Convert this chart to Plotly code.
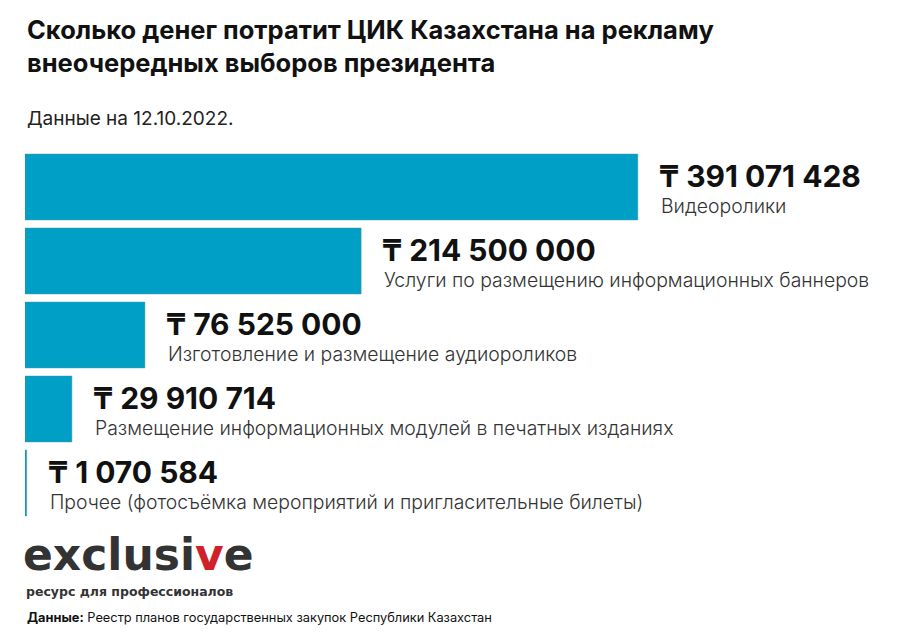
import plotly.graph_objects as go

categories = ["Видеоролики", "Услуги по размещению информационных баннеров",
              "Изготовление и размещение аудиороликов",
              "Размещение информационных модулей в печатных изданиях",
              "Прочее (фотосъёмка мероприятий и пригласительные билеты)"]
values = [391071428, 214500000, 76525000, 29910714, 1070584]
value_labels = ["₸ 391 071 428", "₸ 214 500 000", "₸ 76 525 000", "₸ 29 910 714", "₸ 1 070 584"]

W, H = 904, 643
L, R, T, B = 17, 33, 142, 131
FONT = "Inter, Roboto, sans-serif"

fig = go.Figure(go.Bar(
    x=values, y=categories, orientation="h",
    marker=dict(color="#00a0c6", line=dict(color="#4a8ea0", width=0.5)),
    hoverinfo="skip"))

ann = []
for c, v, lab in zip(categories, values, value_labels):
    ann.append(dict(x=v, y=c, xref="x", yref="y", text=f"<b>{lab}</b>", showarrow=False,
                    xanchor="left", yanchor="middle", xshift=19, yshift=11,
                    font=dict(size=30, color="#111", family=FONT)))
    ann.append(dict(x=v, y=c, xref="x", yref="y", text=c, showarrow=False,
                    xanchor="left", yanchor="middle", xshift=21, yshift=-19,
                    font=dict(size=19.4, color="#333", family=FONT, weight=300)))

def px(x): return (x - L) / (W - L - R)
def py(y): return (H - B - y) / (H - T - B)

ann += [
    dict(x=px(17), y=py(38), xref="paper", yref="paper", xanchor="left", yanchor="middle",
         showarrow=False, align="left",
         text="<b>Сколько денег потратит ЦИК Казахстана на рекламу<br>внеочередных выборов президента</b>",
         font=dict(size=25.5, color="#111", family=FONT)),
    dict(x=px(17), y=py(110), xref="paper", yref="paper", xanchor="left", yanchor="middle",
         showarrow=False, text="Данные на 12.10.2022.", font=dict(size=19, color="#222", family=FONT)),
    dict(x=px(13), y=py(546), xref="paper", yref="paper", xanchor="left", yanchor="middle",
         showarrow=False,
         text="<b>exclusi<span style='color:#d0202a'>v</span>e</b>",
         font=dict(size=44, color="#333", family="DejaVu Sans, sans-serif")),
    dict(x=px(16), y=py(583), xref="paper", yref="paper", xanchor="left", yanchor="middle",
         showarrow=False, text="<b>ресурс для профессионалов</b>",
         font=dict(size=12.5, color="#333", family="DejaVu Sans, sans-serif")),
    dict(x=px(17), y=py(609), xref="paper", yref="paper", xanchor="left", yanchor="middle",
         showarrow=False, text="<b>Данные:</b> Реестр планов государственных закупок Республики Казахстан",
         font=dict(size=12.8, color="#111", family=FONT)),
]

fig.update_layout(
    width=W, height=H, margin=dict(l=L, r=R, t=T, b=B),
    paper_bgcolor="white", plot_bgcolor="white", showlegend=False,
    bargap=0.11, annotations=ann,
    xaxis=dict(range=[0, 545e6], visible=False, fixedrange=True),
    yaxis=dict(autorange="reversed", visible=False, fixedrange=True),
)
fig.write_html("out.html")
